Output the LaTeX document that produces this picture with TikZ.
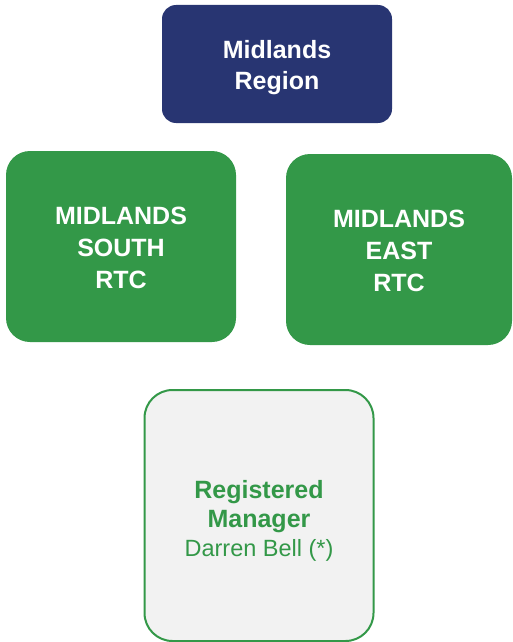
\documentclass[tikz,border=0pt]{standalone}
\usepackage{fontspec}
\setmainfont{Liberation Sans}
\definecolor{navy}{RGB}{40,53,114}
\definecolor{rtcgreen}{RGB}{51,152,72}
\definecolor{paper}{RGB}{242,242,242}
\begin{document}
\begin{tikzpicture}[x=1pt, y=-1pt,
    region/.style ={rectangle, rounded corners=14pt, fill=navy, text=white, align=center,
      minimum width=230pt, minimum height=118pt, inner sep=0pt,
      font=\fontsize{25}{31}\selectfont\bfseries},
    rtc/.style ={rectangle, rounded corners=24pt, fill=rtcgreen, text=white, align=center,
      minimum height=191pt, inner sep=0pt,
      font=\fontsize{25}{32}\selectfont\bfseries},
    manager/.style ={rectangle, rounded corners=28pt, draw=rtcgreen, line width=2pt, fill=paper,
      text=rtcgreen, align=center, minimum width=229pt, minimum height=251pt, inner sep=0pt,
      font=\fontsize{25}{29}\selectfont}]
   \useasboundingbox (0,0) rectangle (512,642);
   \clip (0,0) rectangle (512,642);
   \node[region] (R) at (277,64) {\rule{0pt}{25pt}Midlands\\Region};
   \node[rtc, minimum width=230pt] (S) at (121,246.5) {\rule{0pt}{21pt}MIDLANDS\\SOUTH\\RTC};
   \node[rtc, minimum width=226pt] (E) at (399,249.5) {\rule{0pt}{21pt}MIDLANDS\\EAST\\RTC};
   \node[manager] (M) at (259,515.5)
     {\rule{0pt}{28pt}\textbf{Registered}\\\textbf{Manager}\\{\fontsize{23.5}{29}\selectfont Darren Bell (*)}};
\end{tikzpicture}
\end{document}
